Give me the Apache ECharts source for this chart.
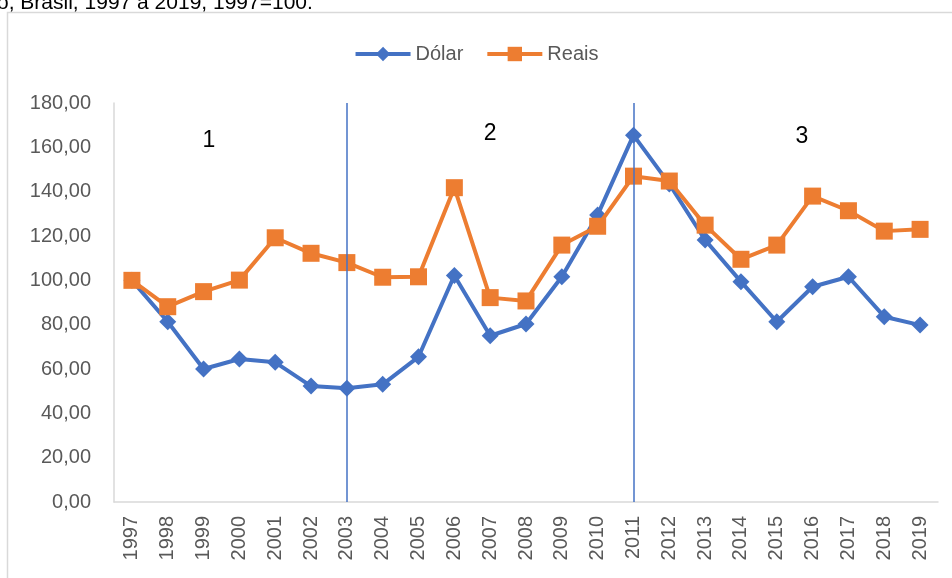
<!DOCTYPE html>
<html>
<head>
<meta charset="utf-8">
<script src="https://cdn.jsdelivr.net/npm/echarts@6/dist/echarts.min.js"></script>
<style>
  html, body { margin: 0; padding: 0; background: #fff; }
  #chart { width: 952px; height: 578px; }
</style>
</head>
<body>
<div id="chart"></div>
<script>
const years = ['1997', '1998', '1999', '2000', '2001', '2002', '2003', '2004', '2005', '2006', '2007', '2008',
  '2009', '2010', '2011', '2012', '2013', '2014', '2015', '2016', '2017', '2018', '2019']

const dolar = [100, 81.3, 60, 64.5, 63, 52.3, 51.3, 53.1, 65.5, 102.2, 75, 80.3,
  101.6, 129.5, 165.5, 143.5, 118.2, 99.4, 81.3, 97.1, 101.6, 83.6, 79.8]

const reais = [100, 88.1, 94.9, 100.1, 119.2, 112.2, 108, 101.4, 101.6, 141.8, 92.2, 90.7,
  115.9, 124.4, 147, 144.8, 124.9, 109.5, 115.9, 138, 131.4, 122.2, 123]

// periods split at these years
const dividers = ['2003', '2011']

// period numbers: [label, category index (fractional), value]
const periods = [['1', 2.15, 163], ['2', 10.0, 166], ['3', 18.7, 165]]

const yTicks = { min: 0, max: 180, interval: 20 }

const blue = '#4472C4'
const orange = '#ED7D31'
const font = 'Liberation Sans, Arial, sans-serif'

const chart = echarts.init(document.getElementById('chart'))

const baseGraphic = [
  {
    type: 'rect',
    silent: true,
    z: -1,
    shape: { x: 7.5, y: 12.5, width: 980, height: 600 },
    style: { fill: 'none', stroke: '#d9d9d9', lineWidth: 1.5 },
  },
  {
    type: 'text',
    left: -3,
    top: -7,
    style: {
      text: 'o, Brasil, 1997 a 2019, 1997=100.',
      font: '21px ' + font,
      fill: '#000',
    },
  },
]

chart.setOption({
  animation: false,
  textStyle: { fontFamily: font },
  legend: {
    top: 39,
    left: 'center',
    itemWidth: 55,
    itemHeight: 18,
    itemGap: 22,
    lineStyle: { width: 4 },
    textStyle: { fontSize: 20, color: '#595959', fontFamily: font },
    data: ['Dólar', 'Reais'],
  },
  graphic: baseGraphic,
  grid: {
    left: 114,
    right: 14,
    top: 103,
    bottom: 76,
  },
  xAxis: {
    type: 'category',
    data: years,
    boundaryGap: true,
    axisLine: { lineStyle: { color: '#d9d9d9', width: 1.5 } },
    axisTick: { show: false },
    axisLabel: {
      rotate: 90,
      margin: 14,
      fontSize: 20,
      color: '#595959',
      interval: 0,
    },
  },
  yAxis: {
    type: 'value',
    min: yTicks.min,
    max: yTicks.max,
    interval: yTicks.interval,
    axisLine: { show: true, lineStyle: { color: '#d9d9d9', width: 1.5 } },
    axisTick: { show: false },
    splitLine: { show: false },
    axisLabel: {
      margin: 23,
      fontSize: 20,
      color: '#595959',
      formatter: (v) => v.toFixed(2).replace('.', ','),
    },
  },
  series: [
    {
      name: 'Dólar',
      type: 'line',
      data: dolar,
      symbol: 'diamond',
      symbolSize: 17,
      showAllSymbol: true,
      itemStyle: { color: blue },
      lineStyle: { color: blue, width: 4 },
      z: 2,
    },
    {
      name: 'Reais',
      type: 'line',
      data: reais,
      symbol: 'rect',
      symbolSize: 17,
      showAllSymbol: true,
      itemStyle: { color: orange },
      lineStyle: { color: orange, width: 4 },
      z: 3,
    },
    {
      // divider lines between periods
      name: 'divisores',
      type: 'line',
      data: [],
      silent: true,
      z: 5,
      markLine: {
        silent: true,
        symbol: ['none', 'none'],
        label: { show: false },
        itemStyle: { color: blue },
        lineStyle: { color: blue, width: 1.5, type: 'solid', opacity: 1 },
        emphasis: { disabled: true },
        data: dividers.map((d) => ({ xAxis: d, lineStyle: { color: blue, width: 1.5, type: 'solid' } })),
      },
    },
  ],
})

// period numbers placed through the chart's own scales
// (category positions snap to integers, so interpolate between neighbours)
const labels = periods.map(([text, idx, val]) => {
  const i0 = Math.floor(idx)
  const f = idx - i0
  const p0 = chart.convertToPixel({ gridIndex: 0 }, [i0, val])
  const p1 = chart.convertToPixel({ gridIndex: 0 }, [i0 + 1, val])
  return {
    type: 'text',
    x: p0[0] + (p1[0] - p0[0]) * f,
    y: p0[1],
    z: 10,
    style: {
      text: text,
      font: '23px ' + font,
      fill: '#000',
      align: 'center',
      verticalAlign: 'middle',
    },
  }
})

chart.setOption({
  graphic: baseGraphic.concat(labels),
}, { replaceMerge: ['graphic'] })

window.addEventListener('resize', () => {
  chart.resize()
})
</script>
</body>
</html>
